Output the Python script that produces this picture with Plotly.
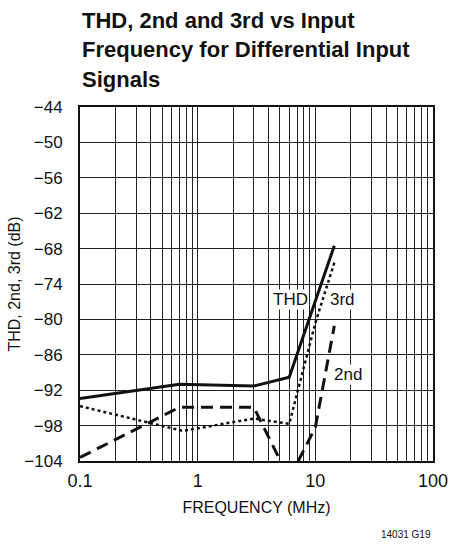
import math
import plotly.graph_objects as go

# Data
freq_thd = [0.1, 0.7, 3.0, 6.0, 14.5]
thd_db = [-93.4, -91.0, -91.3, -89.8, -67.5]

freq_3rd = [0.1, 0.75, 3.0, 6.0, 10.0, 14.7]
third_db = [-94.7, -98.9, -96.8, -97.7, -80.6, -70.0]

freq_2nd = [0.1, 0.7, 3.0, 6.0, 10.0, 14.5]
second_db = [-103.4, -94.9, -94.9, -107.0, -98.3, -81.1]

x_tick_vals = [0.1, 1, 10, 100]
x_tick_text = ["0.1", "1", "10", "100"]
y_tick_vals = [-104, -98, -92, -86, -80, -74, -68, -62, -56, -50, -44]

title_lines = ["THD, 2nd and 3rd vs Input", "Frequency for Differential Input", "Signals"]

FONT = "Liberation Sans, Arial, sans-serif"

fig = go.Figure()
fig.add_trace(go.Scatter(x=freq_thd, y=thd_db, mode="lines", name="THD",
                         line=dict(color="#111", width=3, dash="solid")))
fig.add_trace(go.Scatter(x=freq_3rd, y=third_db, mode="lines", name="3rd",
                         line=dict(color="#111", width=2.5, dash="dot")))
fig.add_trace(go.Scatter(x=freq_2nd, y=second_db, mode="lines", name="2nd",
                         line=dict(color="#111", width=3, dash="12px,7px")))

labels = [("THD", 6.2, -76.6), ("3rd", 17.1, -76.6), ("2nd", 18.9, -89.3)]
for txt, fx, fy in labels:
    fig.add_annotation(x=math.log10(fx), y=fy, text=txt, showarrow=False,
                       xref="x", yref="y", bgcolor="white",
                       font=dict(family=FONT, size=17, color="#111"), borderpad=0)

# title lines (plot top = 107 px, plot height = 354 px)
for i, line in enumerate(title_lines):
    ypx = 21 + 29 * i
    fig.add_annotation(x=0, y=1 + (107 - ypx) / 354, xref="paper", yref="paper",
                       text="<b>" + line + "</b>", showarrow=False,
                       xanchor="left", yanchor="middle",
                       font=dict(family=FONT, size=22, color="#111"))

fig.add_annotation(x=1, y=-0.209, xref="paper", yref="paper", text="14031 G19",
                   showarrow=False, xanchor="right", yanchor="middle",
                   font=dict(family=FONT, size=10, color="#111"))

fig.update_layout(
    width=450, height=546,
    margin=dict(l=80, r=17, t=107, b=85),
    paper_bgcolor="white", plot_bgcolor="white",
    showlegend=False,
    font=dict(family=FONT, size=18, color="#111"),
)
fig.update_xaxes(type="log", range=[-1, 2], tickvals=x_tick_vals, ticktext=x_tick_text,
                 showgrid=True, gridcolor="#222", gridwidth=1,
                 minor=dict(dtick="D1", showgrid=True, gridcolor="#222", gridwidth=1, ticks=""),
                 showline=True, linecolor="#111", linewidth=2, mirror=True,
                 ticks="outside", ticklen=2, tickcolor="rgba(0,0,0,0)",
                 zeroline=False, automargin=False,
                 tickfont=dict(size=18),
                 title=dict(text="FREQUENCY (MHz)", font=dict(family=FONT, size=16), standoff=12))
fig.update_yaxes(range=[-104, -44], tickvals=y_tick_vals,
                 showgrid=True, gridcolor="#222", gridwidth=1,
                 showline=True, linecolor="#111", linewidth=2, mirror=True,
                 ticks="outside", ticklen=12, tickcolor="rgba(0,0,0,0)",
                 zeroline=False, automargin=False,
                 tickfont=dict(size=17),
                 title=dict(text="THD, 2nd, 3rd (dB)", font=dict(family=FONT, size=16), standoff=0))

fig.write_html("out.html", config={"displayModeBar": False},
               post_script="document.body.style.margin='0px';")
